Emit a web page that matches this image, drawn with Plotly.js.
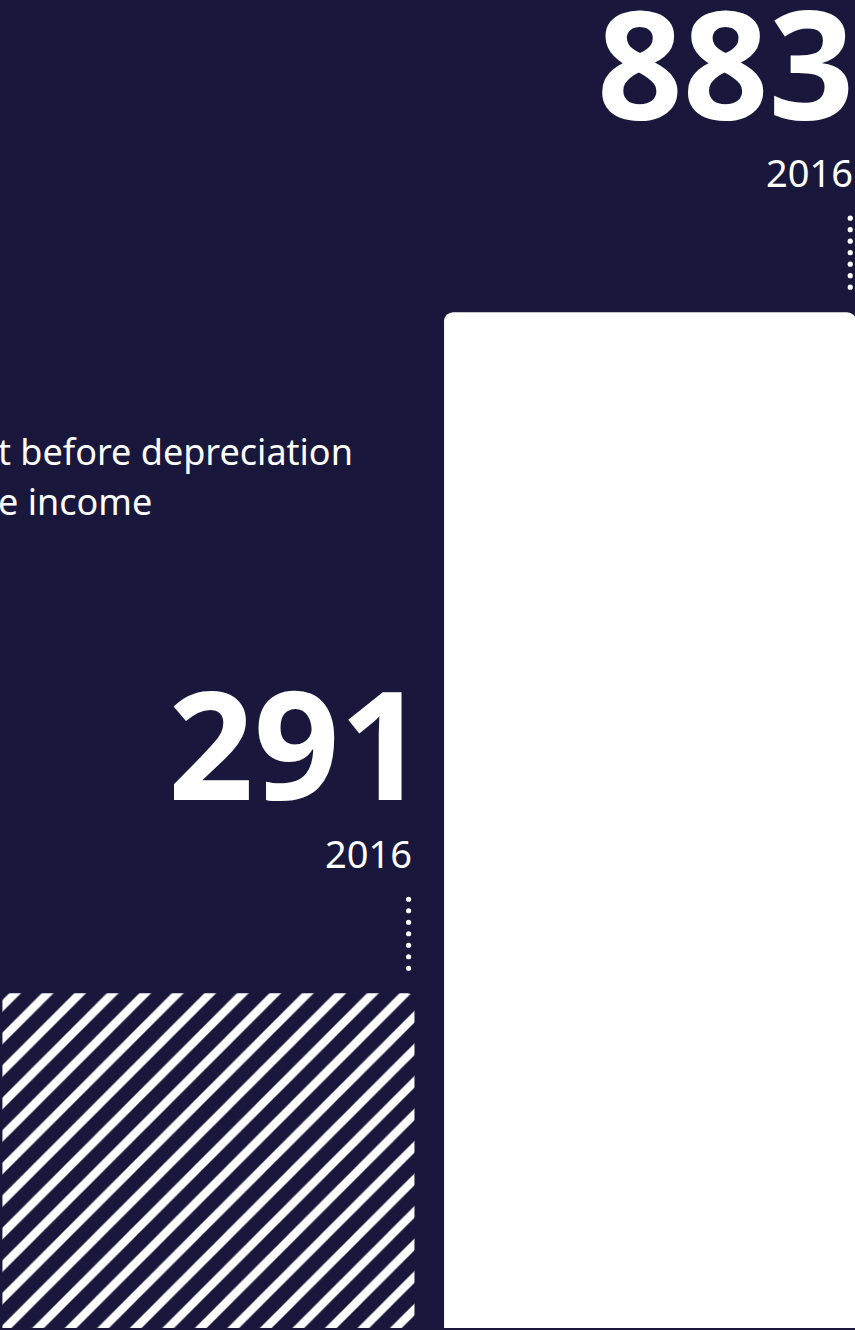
<!DOCTYPE html>
<html><head><meta charset="utf-8">
<script src="https://cdn.plot.ly/plotly-3.0.1.min.js"></script>
<style>html,body{margin:0;padding:0;background:#19183c;overflow:hidden}#chart{width:855px;height:1330px}</style>
</head><body><div id="chart"></div>
<script>
const categories = ['Profit before depreciation', 'Income'];
const values = [291, 883];
const valueLabels = ['291', '883'];
const yearLabels = ['2016', '2016'];
const legendLines = ['t before depreciation', 'e income'];

const BG = '#19183c', FG = '#ffffff';
const FONT = '"Noto Sans", "Open Sans", sans-serif';
const barWidth = 0.933;
const textEdge = 0.46;
const numberShift = {0: 15, 1: 3};

const traces = [
  {
    type: 'bar', x: [0], y: [values[0]], width: barWidth, name: categories[0],
    hoverinfo: 'skip', textposition: 'none',
    marker: {color: BG, cornerradius: 7, line: {width: 0},
      pattern: {shape: '/', fgcolor: FG, bgcolor: BG, size: 23, solidity: 0.36, fillmode: 'replace'}}
  },
  {
    type: 'bar', x: [1], y: [values[1]], width: barWidth, name: categories[1],
    hoverinfo: 'skip', textposition: 'none',
    marker: {color: FG, cornerradius: 9, line: {width: 0}}
  }
];

const annotations = [];
const shapes = [];
values.forEach((v, i) => {
  annotations.push({x: i + textEdge, y: v, xref: 'x', yref: 'y', xanchor: 'right', yanchor: 'bottom',
    yshift: 147, xshift: numberShift[i], showarrow: false, text: valueLabels[i],
    font: {family: FONT, size: 150, color: FG, weight: 700}});
  annotations.push({x: i + textEdge, y: v, xref: 'x', yref: 'y', xanchor: 'right', yanchor: 'bottom',
    yshift: 112, xshift: 2, showarrow: false, text: yearLabels[i],
    font: {family: FONT, size: 38, color: FG}});
  for (let k = 0; k < 7; k++) {
    const c = 25 + 11.5 * k;
    shapes.push({type: 'circle', xref: 'x', yref: 'y', xsizemode: 'pixel', ysizemode: 'pixel',
      xanchor: i + textEdge, yanchor: v, x0: -5.6, x1: -0.4, y0: c - 2.6, y1: c + 2.6,
      fillcolor: FG, line: {width: 0}});
  }
});
const legendY = [0.6406, 0.6030];
legendLines.forEach((t, j) => {
  annotations.push({x: 0, y: legendY[j], xref: 'paper', yref: 'paper', xanchor: 'left', yanchor: 'bottom',
    xshift: -4, showarrow: false, text: t, font: {family: FONT, size: 36, color: FG}});
});

const layout = {
  width: 855, height: 1330, margin: {l: 0, r: 0, t: 0, b: 0},
  paper_bgcolor: BG, plot_bgcolor: BG, showlegend: false, barmode: 'overlay',
  xaxis: {range: [-0.472, 1.464], visible: false, fixedrange: true},
  yaxis: {range: [-1.74, 1154.4], visible: false, fixedrange: true},
  annotations: annotations, shapes: shapes
};
Plotly.newPlot('chart', traces, layout, {staticPlot: true, displayModeBar: false});
</script></body></html>
